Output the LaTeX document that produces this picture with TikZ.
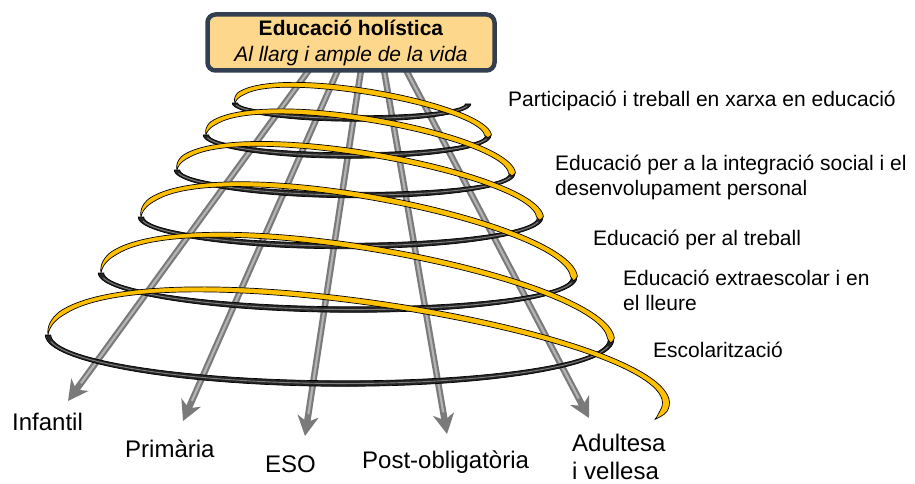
\documentclass[tikz,border=0pt]{standalone}
\usepackage{fontspec}
\setmainfont{Liberation Sans}
\usetikzlibrary{arrows.meta}

\definecolor{gold}{HTML}{FFC000}
\definecolor{boxfill}{HTML}{FDD78C}
\definecolor{boxline}{HTML}{333F50}
\definecolor{raydark}{HTML}{7A7A7A}
\definecolor{raylight}{HTML}{B4B4B4}

% one turn of the spiral per entry:
% centre x / half width / right y / left y / lower depth / upper bulge / next centre x / next half width / next right y / end angle / taper
\def\spiralturns{351.5/116.5/104/103/15/30.5/347/141/136/363/4,
  347/141/136/135/20/38.5/344.5/167.5/174/363/4,
  344.5/167.5/174/170/23/44/340.5/199.5/218/363/4,
  340.5/199.5/218/217/28.5/55.5/337.5/236.5/278/363/4,
  337.5/236.5/278/273/34/63.5/329.5/281.5/340/363/4,
  329.5/281.5/340/335/46/72/322/344/403/374/6}

\tikzset{
  ray/.style={draw=raydark, line width=6.5pt, -{Stealth[length=20pt,width=21pt,inset=6pt]}},
  rayshine/.style={draw=raylight, line width=2.2pt, shorten >=22pt},
  backband/.style={fill=black!85, draw=black, line width=0.7pt},
  backshine/.style={draw=black!50, line width=0.9pt},
  frontband/.style={fill=gold, draw=black, line width=0.7pt},
  titlebox/.style={draw=boxline, fill=boxfill, line width=4.5pt, rounded corners=8pt,
    minimum width=287pt, minimum height=56pt, align=center, inner sep=0pt,
    font=\fontsize{21}{26}\selectfont},
  areatext/.style={font=\fontsize{21}{25}\selectfont, align=left, anchor=base west, inner sep=0pt},
  agetext/.style={font=\fontsize{24}{28}\selectfont, align=left, anchor=base west, inner sep=0pt},
}

\begin{document}
\begin{tikzpicture}[x=1pt, y=-1pt]
    \useasboundingbox (0,0) rectangle (915,484);

    % rays of the life stages
    \coordinate (infTop) at (309,70);   \coordinate (infTip) at (68,401);
    \coordinate (priTop) at (338,70);   \coordinate (priTip) at (183,421);
    \coordinate (esoTop) at (361,70);   \coordinate (esoTip) at (305,436);
    \coordinate (posTop) at (384,70);   \coordinate (posTip) at (447,434);
    \coordinate (aduTop) at (406,70);   \coordinate (aduTip) at (589,418);
    \foreach \st in {inf,pri,eso,pos,adu} {
        \draw[ray] (\st Top) -- (\st Tip);
        \draw[rayshine] (\st Top) -- (\st Tip);
    }

    % lower (back) half of every turn
    \foreach \cx/\ra/\ry/\ly/\bd/\ed/\ncx/\nra/\nry/\uend/\tap in \spiralturns {
        \filldraw[backband]
            plot[domain=0:180, samples=50, variable=\ang]
                ({\cx+(\ra-2.75)*cos(\ang)}, {\ry+(\ly-\ry)*(1-cos(\ang))/2+(\bd-2.75)*sin(\ang)})
            -- plot[domain=180:0, samples=50, variable=\ang]
                ({\cx+(\ra+2.75)*cos(\ang)}, {\ry+(\ly-\ry)*(1-cos(\ang))/2+(\bd+2.75)*sin(\ang)})
            -- cycle;
        \draw[backshine]
            plot[domain=8:172, samples=50, variable=\ang]
                ({\cx+\ra*cos(\ang)}, {\ry+(\ly-\ry)*(1-cos(\ang))/2+\bd*sin(\ang)});
    }

    % upper (front) half, running on to the next turn
    \foreach \cx/\ra/\ry/\ly/\bd/\ed/\ncx/\nra/\nry/\uend/\tap in \spiralturns {
        \filldraw[frontband]
            plot[domain=180:\uend, samples=80, variable=\ang]
                ({\cx+(1+cos(\ang))/2*(\ncx-\cx)+(\ra+(1+cos(\ang))/2*(\nra-\ra)-3.5*min(1,(\ang-180)/20,(\uend-\ang)/\tap))*cos(\ang)},
                 {\ly+(1+cos(\ang))/2*(\nry-\ly)+(\ed-2.75*min(1,(\ang-180)/20,(\uend-\ang)/\tap))*sin(\ang)})
            -- plot[domain=\uend:180, samples=80, variable=\ang]
                ({\cx+(1+cos(\ang))/2*(\ncx-\cx)+(\ra+(1+cos(\ang))/2*(\nra-\ra)+3.5*min(1,(\ang-180)/20,(\uend-\ang)/\tap))*cos(\ang)},
                 {\ly+(1+cos(\ang))/2*(\nry-\ly)+(\ed+2.75*min(1,(\ang-180)/20,(\uend-\ang)/\tap))*sin(\ang)})
            -- cycle;
    }

    \node[titlebox] (holistic) at (351,42.5)
        {\textbf{Educació holística}\\\textit{Al llarg i ample de la vida}};

    % areas, one per turn
    \node[areatext] (xarxa) at (508,107) {Participació i treball en xarxa en educació};
    \node[areatext] (social) at (555,195) {Educació per a la integració social i el\\desenvolupament personal};
    \node[areatext] (treball) at (593,245) {Educació per al treball};
    \node[areatext] (lleure) at (623,310) {Educació extraescolar i en\\el lleure};
    \node[areatext] (escola) at (653,357) {Escolarització};

    % life stages
    \node[agetext] (infantil) at (12,430) {Infantil};
    \node[agetext] (primaria) at (125,457) {Primària};
    \node[agetext] (eso) at (265,472) {ESO};
    \node[agetext] (postob) at (362,468) {Post-obligatòria};
    \node[agetext] (adulta) at (572,479) {Adultesa\\i vellesa};
\end{tikzpicture}
\end{document}
